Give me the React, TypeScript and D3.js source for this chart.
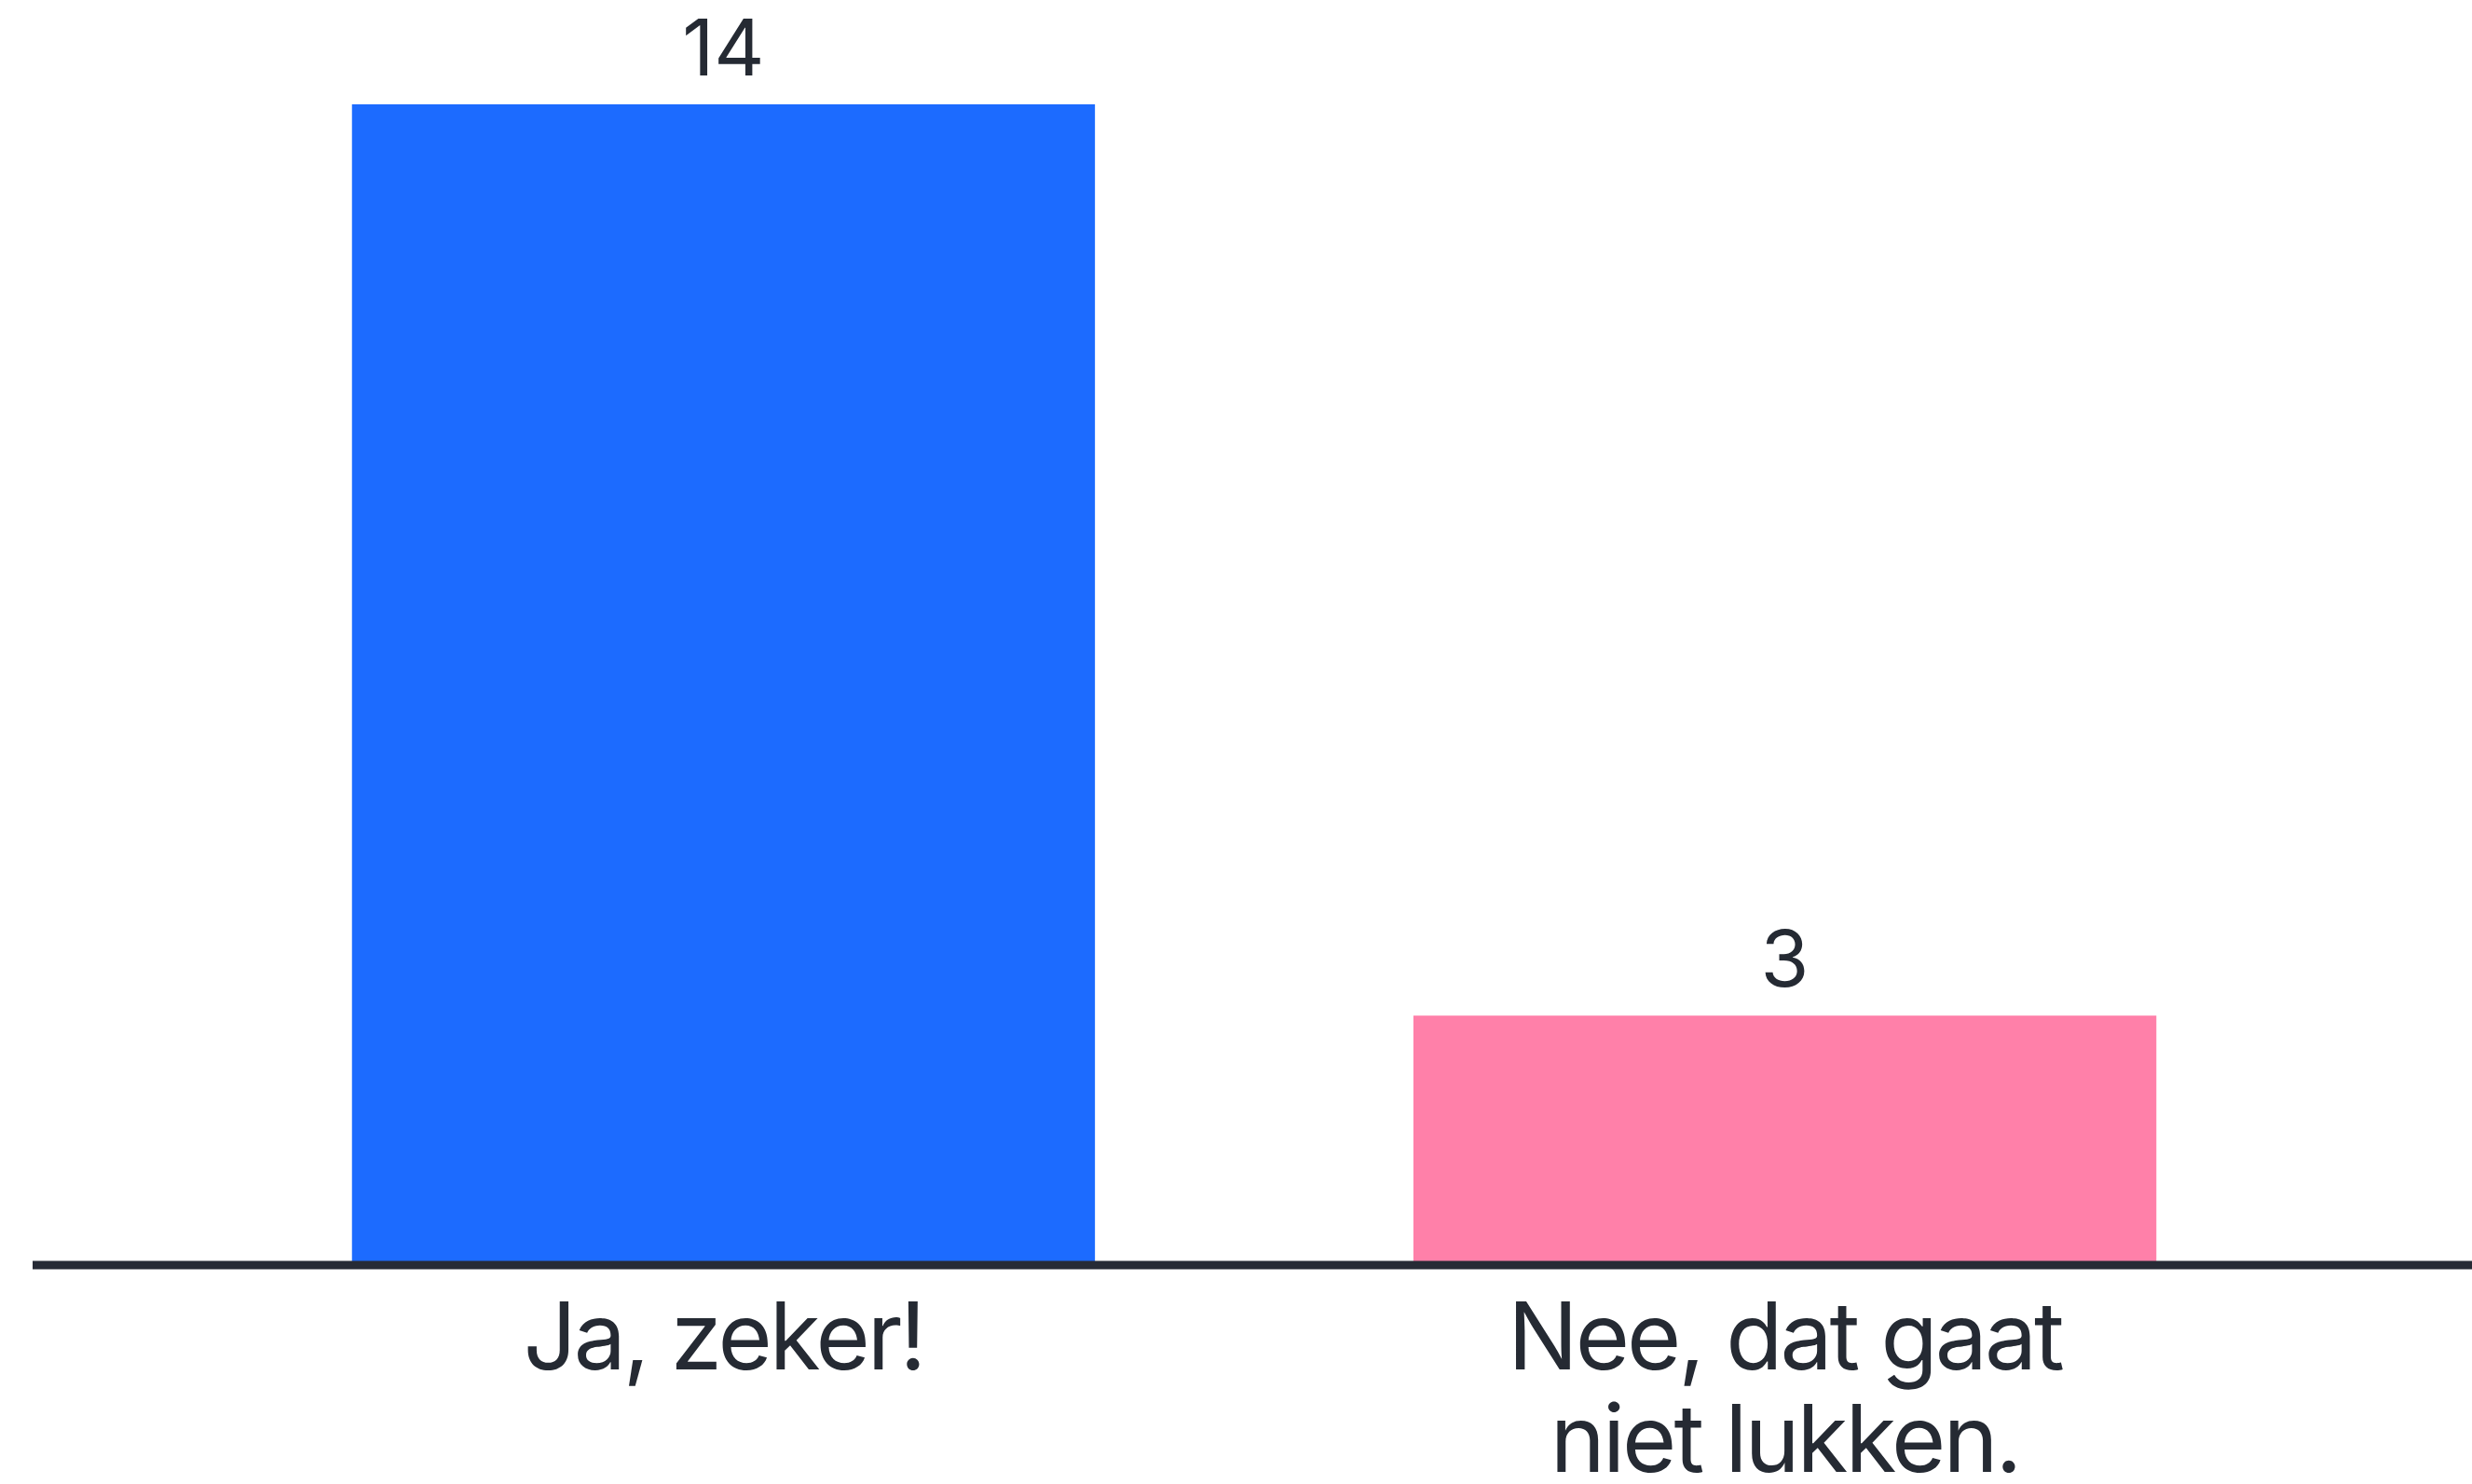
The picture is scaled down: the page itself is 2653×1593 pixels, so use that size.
import React, { useEffect, useRef } from 'react'
import * as d3 from 'd3'

const categories = ['Ja, zeker!', 'Nee, dat gaat niet lukken.']
const labelLines = [['Ja, zeker!'], ['Nee, dat gaat', 'niet lukken.']]
const values = [14, 3]
const colors = ['#1c6bff', '#ff80a9']

export default function App() {
  const ref = useRef<SVGSVGElement | null>(null)

  useEffect(() => {
    if (!ref.current) return
    const svg = d3.select(ref.current)
    svg.selectAll('*').remove()

    const width = 2653, height = 1593
    const baseY = 1357
    svg.attr('width', width).attr('height', height).attr('viewBox', `0 0 ${width} ${height}`)

    const x = d3.scaleBand<string>().domain(categories).range([36, 2656]).padding(0.3)
    const y = d3.scaleLinear().domain([0, 14]).range([baseY, 112])

    const font = 'Inter, "Noto Sans", sans-serif'
    const ink = '#252a33'

    svg.selectAll('rect.bar').data(values).enter().append('rect')
      .attr('class', 'bar')
      .attr('x', (d, i) => x(categories[i])!)
      .attr('y', d => y(d))
      .attr('width', x.bandwidth())
      .attr('height', d => baseY - y(d))
      .attr('fill', (d, i) => colors[i])

    // baseline
    svg.append('line')
      .attr('x1', 35).attr('x2', width)
      .attr('y1', baseY + 1).attr('y2', baseY + 1)
      .attr('stroke', '#262b35').attr('stroke-width', 9)

    // value labels
    svg.selectAll('text.val').data(values).enter().append('text')
      .attr('class', 'val')
      .attr('x', (d, i) => x(categories[i])! + x.bandwidth() / 2)
      .attr('y', d => y(d) - 31)
      .attr('text-anchor', 'middle')
      .attr('font-family', font)
      .attr('font-size', 84)
      .attr('fill', ink)
      .text(d => d)

    // category labels
    const lab = svg.selectAll('text.cat').data(categories).enter().append('text')
      .attr('class', 'cat')
      .attr('x', d => x(d)! + x.bandwidth() / 2)
      .attr('y', 1470)
      .attr('text-anchor', 'middle')
      .attr('font-family', font)
      .attr('font-size', 100)
      .attr('letter-spacing', -3)
      .attr('fill', ink)
    lab.each(function (d, i) {
      const t = d3.select(this)
      const cx = x(d)! + x.bandwidth() / 2
      labelLines[i].forEach((line, j) => {
        t.append('tspan').attr('x', cx).attr('dy', j === 0 ? 0 : 110).text(line)
      })
    })
  }, [])

  return <svg ref={ref} style={{ position: 'absolute', left: 0, top: 0, background: '#fff' }} />
}
